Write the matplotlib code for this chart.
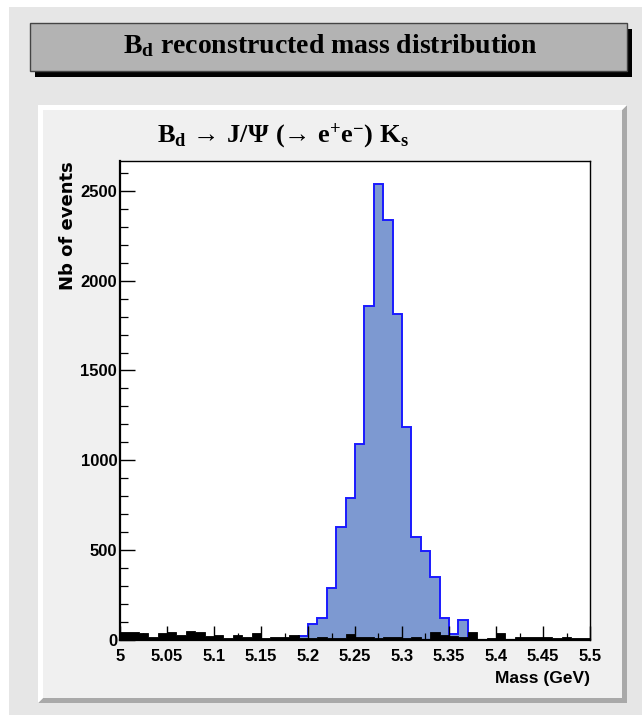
import numpy as np
import matplotlib
matplotlib.use("Agg")
import matplotlib.pyplot as plt
from matplotlib import font_manager
from matplotlib.patches import Rectangle, Polygon
from matplotlib.ticker import FixedLocator, MultipleLocator

# ---------------- data ----------------
mass_lo, mass_hi, n_bins = 5.0, 5.5, 50

# reconstructed B_d candidates (signal sample), one value per 10 MeV bin
signal_counts = [
    0, 0, 0, 0, 0, 0, 0, 0, 0, 0,
    0, 0, 0, 0, 0, 0, 0, 0, 0, 21,
    86, 118, 286, 629, 791, 1091, 1862, 2541, 2341, 1816,
    1187, 570, 494, 349, 118, 29, 109, 0, 0, 0,
    0, 0, 0, 0, 0, 0, 0, 0, 0, 0,
]

# background sample, same binning
background_counts = [
    40, 40, 34, 16, 34, 40, 23, 47, 40, 21,
    25, 10, 23, 16, 34, 10, 16, 12, 23, 8,
    8, 14, 8, 8, 32, 14, 14, 8, 14, 14,
    8, 14, 5, 40, 25, 22, 14, 40, 5, 8,
    34, 3, 12, 12, 12, 12, 8, 16, 8, 8,
]

x_ticks = [5.0, 5.05, 5.1, 5.15, 5.2, 5.25, 5.3, 5.35, 5.4, 5.45, 5.5]
x_tick_labels = ["5", "5.05", "5.1", "5.15", "5.2", "5.25", "5.3", "5.35", "5.4", "5.45", "5.5"]
y_ticks = [0, 500, 1000, 1500, 2000, 2500]
y_tick_labels = ["0", "500", "1000", "1500", "2000", "2500"]

main_title = r"$\mathrm{B_d}$ reconstructed mass distribution"
hist_title = r"$\mathrm{B_d\ →\ J/Ψ\ (→\ e^{+}e^{-})\ K_s}$"
x_title = "Mass (GeV)"
y_title = "Nb of events"

# ---------------- fonts ----------------
_installed = {f.name for f in font_manager.fontManager.ttflist}
if "Liberation Sans Narrow" in _installed:
    SANS, SANS_SIZE = "Liberation Sans Narrow", 13
else:
    SANS, SANS_SIZE = "Liberation Sans", 11.5
SERIF = "Liberation Serif"

plt.rcParams["mathtext.fontset"] = "custom"
plt.rcParams["mathtext.rm"] = "Liberation Serif:bold"
plt.rcParams["mathtext.it"] = "Liberation Serif:bold"
plt.rcParams["mathtext.bf"] = "Liberation Serif:bold"

# ---------------- canvas ----------------
W, H = 642, 715
fig = plt.figure(figsize=(W / 100, H / 100), dpi=100, facecolor="#e6e6e6")


def fx(px):
    return px / W


def fy(py):
    return 1 - py / H


def frect(x0, y0, x1, y1, **kw):
    fig.add_artist(Rectangle((fx(x0), fy(y1)), fx(x1) - fx(x0), fy(y0) - fy(y1),
                             transform=fig.transFigure, **kw))


def fpoly(pts, **kw):
    fig.add_artist(Polygon([(fx(a), fy(b)) for a, b in pts], closed=True,
                           transform=fig.transFigure, **kw))


# canvas highlight strips
frect(0, 0, W, 7, facecolor="white", edgecolor="none", zorder=-10)
frect(0, 0, 9, H, facecolor="white", edgecolor="none", zorder=-10)

# title box with drop shadow
frect(35, 29, 632, 77, facecolor="black", edgecolor="none", zorder=-9)
frect(30, 23, 627, 71, facecolor="#b3b3b3", edgecolor="#444444", lw=1.0, zorder=-8)
fig.text(fx(330), fy(46), main_title, ha="center", va="center",
         fontsize=20, fontfamily=SERIF, fontweight="bold", color="black")

# pad with bevelled border
px0, py0, px1, py1, bw = 38, 105, 627, 703, 5
fpoly([(px1, py0), (px1, py1), (px0, py1), (px0 + bw, py1 - bw), (px1 - bw, py1 - bw),
       (px1 - bw, py0 + bw)], facecolor="#a9a9a9", edgecolor="none", zorder=-7)
fpoly([(px0, py0), (px1, py0), (px1 - bw, py0 + bw), (px0 + bw, py0 + bw),
       (px0 + bw, py1 - bw), (px0, py1)], facecolor="white", edgecolor="none", zorder=-7)
frect(px0 + bw, py0 + bw, px1 - bw, py1 - bw, facecolor="#f0f0f0", edgecolor="none", zorder=-6)

fig.text(fx(283), fy(136), hist_title, ha="center", va="center",
         fontsize=19, color="black")

# ---------------- histogram frame ----------------
ax_l, ax_r, ax_t, ax_b = 120, 590, 161, 639.5
ax = fig.add_axes([fx(ax_l), fy(ax_b), fx(ax_r) - fx(ax_l), fy(ax_t) - fy(ax_b)])
ax.set_facecolor("white")

edges = np.linspace(mass_lo, mass_hi, n_bins + 1)
ax.stairs(signal_counts, edges, fill=True, facecolor="#7d99d1", edgecolor="none",
          zorder=1)
ax.stairs(signal_counts, edges, color="#1a1aff", lw=1.4, zorder=1.2)
ax.stairs(background_counts, edges, fill=True, facecolor="black", edgecolor="black",
          lw=0.6, zorder=1.4)

ax.set_xlim(mass_lo, mass_hi)
ax.set_ylim(0, max(signal_counts) * 1.05)

ax.xaxis.set_major_locator(FixedLocator(x_ticks))
ax.set_xticklabels(x_tick_labels)
ax.xaxis.set_minor_locator(MultipleLocator(0.025))
ax.yaxis.set_major_locator(FixedLocator(y_ticks))
ax.set_yticklabels(y_tick_labels)
ax.yaxis.set_minor_locator(MultipleLocator(100))

ax.tick_params(axis="both", which="both", direction="in", top=False, right=False,
               color="black", zorder=3)
ax.tick_params(axis="x", which="major", length=10, width=1.0, pad=7)
ax.tick_params(axis="x", which="minor", length=5, width=0.9)
ax.tick_params(axis="y", which="major", length=10.5, width=1.0, pad=2)
ax.tick_params(axis="y", which="minor", length=5.5, width=0.9)
for lab in ax.get_xticklabels() + ax.get_yticklabels():
    lab.set_fontfamily(SANS)
    lab.set_fontweight("bold")
    lab.set_fontsize(SANS_SIZE + 0.5)

for side in ("left", "bottom"):
    ax.spines[side].set_linewidth(1.6)
for side in ("top", "right"):
    ax.spines[side].set_linewidth(1.0)
for sp in ax.spines.values():
    sp.set_zorder(3)

fig.text(fx(68), fy(161), y_title, rotation=90, ha="center", va="top",
         fontsize=13, fontfamily="DejaVu Sans", fontweight="bold")
fig.text(fx(590), fy(678), x_title, ha="right", va="center",
         fontsize=SANS_SIZE + 1, fontfamily=SANS, fontweight="bold")

fig.savefig("out.png", dpi=100, facecolor=fig.get_facecolor())
